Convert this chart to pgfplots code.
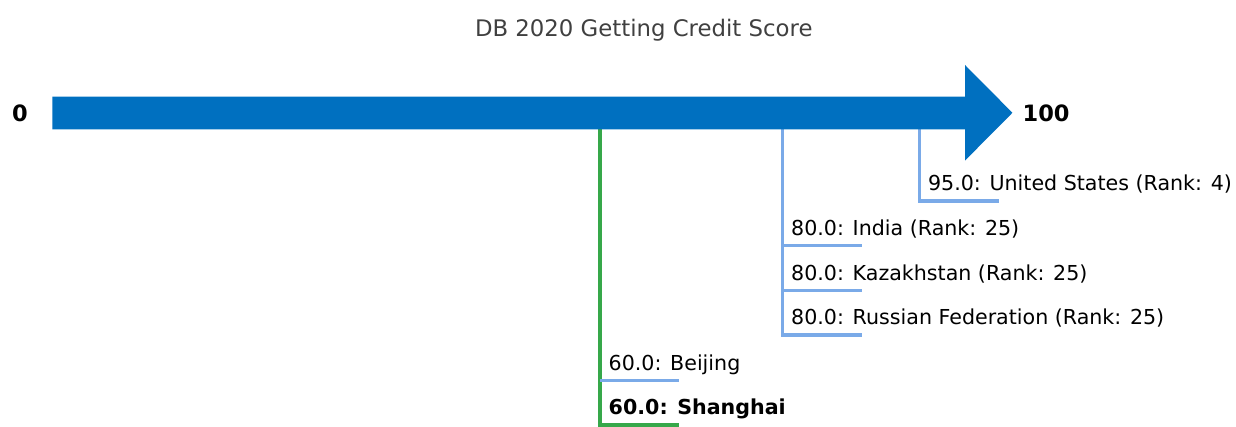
\documentclass[border=0pt]{standalone}
\usepackage{pgfplots}
\pgfplotsset{compat=1.18}
\usepackage{fontspec}
\setmainfont{DejaVu Sans}
\definecolor{arrowblue}{HTML}{0070C0}
\definecolor{lineblue}{HTML}{7AAAE8}
\definecolor{linegreen}{HTML}{36A84A}
\definecolor{titlegray}{HTML}{404040}
\begin{document}
\begin{tikzpicture}
\begin{axis}[
  hide axis, scale only axis,
  width=1236pt, height=427pt,
  xmin=-5.753, xmax=129.70, ymin=-427, ymax=0,
  clip=false,
  every node near coord/.append style={inner sep=0pt},
]
\path[use as bounding box] (rel axis cs:0,0) rectangle (rel axis cs:1,1);
% connector lines
\addplot[linegreen, line width=3.2pt, line join=miter, mark=none] coordinates {(60,-113) (60,-425) (68.7,-425)};
\addplot[lineblue, line width=3.2pt, mark=none] coordinates {(60,-380.5) (68.7,-380.5)};
\addplot[lineblue, line width=3.2pt, line join=miter, mark=none] coordinates {(80,-113) (80,-335) (88.7,-335)};
\addplot[lineblue, line width=3.2pt, mark=none] coordinates {(80,-245.5) (88.7,-245.5)};
\addplot[lineblue, line width=3.2pt, mark=none] coordinates {(80,-290.5) (88.7,-290.5)};
\addplot[lineblue, line width=3.2pt, line join=miter, mark=none] coordinates {(95,-113) (95,-201) (103.7,-201)};
% arrow
\addplot[fill=arrowblue, draw=none, mark=none] coordinates {(0,-96.7) (100,-96.7) (100,-65) (105.2,-112.8) (100,-160.6) (100,-129.3) (0,-129.3)};
% labels
\addplot[only marks, mark=none, nodes near coords, point meta=explicit symbolic,
  every node near coord/.append style={anchor=base west, xshift=8.5pt, yshift=10pt, font=\fontsize{20.6}{24}\selectfont, text=black}]
  coordinates {
  (95,-201) [95.0: United States (Rank: 4)]
  (80,-245.5) [80.0: India (Rank: 25)]
  (80,-290.5) [80.0: Kazakhstan (Rank: 25)]
  (80,-335) [80.0: Russian Federation (Rank: 25)]
  (60,-380.5) [60.0: Beijing]
  };
\addplot[only marks, mark=none, nodes near coords, point meta=explicit symbolic,
  every node near coord/.append style={anchor=base west, xshift=8.5pt, yshift=10pt, font=\fontsize{20.6}{24}\selectfont\bfseries, text=black}]
  coordinates {(60,-425) [60.0: Shanghai]};
\addplot[only marks, mark=none, nodes near coords, point meta=explicit symbolic,
  every node near coord/.append style={anchor=east, xshift=-24.5pt, font=\fontsize{22.5}{26}\selectfont\bfseries, text=black}]
  coordinates {(0,-113) [0]};
\addplot[only marks, mark=none, nodes near coords, point meta=explicit symbolic,
  every node near coord/.append style={anchor=west, xshift=10pt, font=\fontsize{22.5}{26}\selectfont\bfseries, text=black}]
  coordinates {(105.2,-113) [100]};
\node[anchor=base, inner sep=0pt, font=\fontsize{22.8}{27}\selectfont, text=titlegray] at (axis cs:64.8,-36.7) {DB 2020 Getting Credit Score};
\end{axis}
\end{tikzpicture}
\end{document}
